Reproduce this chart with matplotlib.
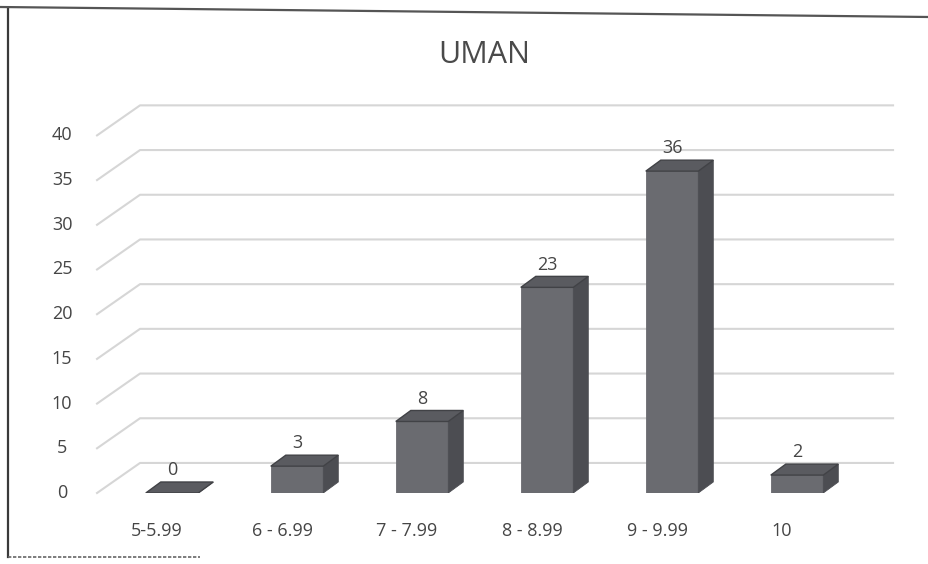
import matplotlib
matplotlib.use("Agg")
import matplotlib.pyplot as plt
from matplotlib.patches import Polygon
from matplotlib.lines import Line2D

categories = ["5-5.99", "6 - 6.99", "7 - 7.99", "8 - 8.99", "9 - 9.99", "10"]
counts = [0, 3, 8, 23, 36, 2]
y_ticks = [0, 5, 10, 15, 20, 25, 30, 35, 40]

TEXT = "#454545"
GRID = "#d6d6d6"
FRONT = "#6a6b70"
TOP = "#5a5b60"
SIDE = "#4c4d52"

plt.rcParams["font.family"] = ["Open Sans", "DejaVu Sans"]

fig = plt.figure(figsize=(9.29, 5.64), dpi=100)
ax = fig.add_axes([0.1023, 0.1259, 0.859, 0.7133])
ax.set_xlim(-0.616, 5.768)
ax.set_ylim(0, 45)
ax.axis("off")

# depth offsets for the fake 3d look (data units)
wall_dx, wall_dy = 0.344, 3.36
bar_dx, bar_dy = 0.12, 1.23
half_w = 0.21

# back wall gridlines with the slanted floor-to-wall segment
for v in y_ticks:
    ax.plot([-0.6, -0.6 + wall_dx, 5.768], [v, v + wall_dy, v + wall_dy],
            color=GRID, lw=1.5, clip_on=False, zorder=1)
    ax.text(-0.88, v, str(v), ha="center", va="center", fontsize=13,
            color=TEXT, clip_on=False)

for i, v in enumerate(counts):
    x0, x1 = i - half_w, i + half_w
    front = Polygon([(x0, 0), (x1, 0), (x1, v), (x0, v)],
                    closed=True, fc=FRONT, ec=FRONT, lw=0.6, zorder=3)
    side = Polygon([(x1, 0), (x1 + bar_dx, bar_dy), (x1 + bar_dx, v + bar_dy), (x1, v)],
                   closed=True, fc=SIDE, ec=SIDE, lw=0.6, zorder=3)
    top = Polygon([(x0, v), (x1, v), (x1 + bar_dx, v + bar_dy), (x0 + bar_dx, v + bar_dy)],
                  closed=True, fc=TOP, ec="#414246", lw=1.0, zorder=4)
    for p in (front, side, top):
        ax.add_patch(p)
    ax.text(i, v + bar_dy + 0.3, str(v), ha="center", va="bottom",
            fontsize=13, color=TEXT, zorder=5)
    ax.text(i - 0.12, -4.2, categories[i], ha="center", va="center",
            fontsize=13, color=TEXT, clip_on=False)

fig.text(484 / 929, 1 - 55 / 564, "UMAN", ha="center", va="center",
         fontsize=22, color="#4a4a4a")

# outer frame
fig.add_artist(Line2D([8 / 929, 8 / 929], [1 - 8 / 564, 1 - 557 / 564],
                      transform=fig.transFigure, color="#3a3a3a", lw=1.6))
fig.add_artist(Line2D([0, 1], [1 - 7 / 564, 1 - 17 / 564],
                      transform=fig.transFigure, color="#555555", lw=1.6))
fig.add_artist(Line2D([8 / 929, 200 / 929], [1 - 557 / 564, 1 - 557 / 564],
                      transform=fig.transFigure, color="#666666", lw=1.2, ls=(0, (2, 1))))

fig.savefig("out.png", dpi=100, facecolor="white")
